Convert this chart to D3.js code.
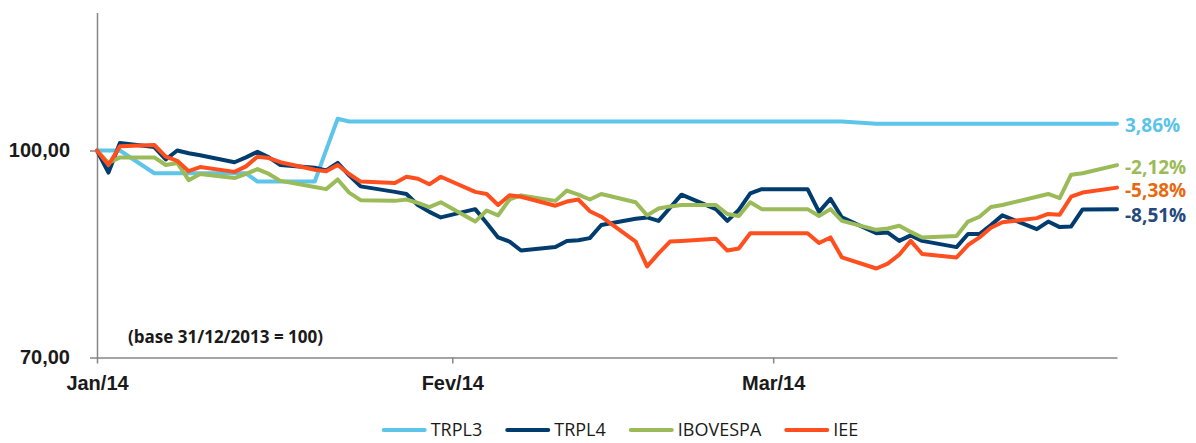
<!DOCTYPE html>
<html>
<head>
<meta charset="utf-8">
<script src="https://cdn.jsdelivr.net/npm/d3@7"></script>
<style>
  body { margin: 0; background: #fff; }
  svg { display: block; font-family: "Open Sans", "Liberation Sans", sans-serif; }
  .axis path, .axis line { stroke: #868686; stroke-width: 1.5px; }
  .axis text { font-size: 20px; font-weight: 700; fill: #1a1a1a; }
  .serie { fill: none; stroke-width: 4px; stroke-linejoin: round; stroke-linecap: round; }
</style>
</head>
<body>
<div class="interactive-wrapper"></div>
<script>
// trading days (carnival 3-4 mar repeated flat, like the source sheet)
const dates = [
  "2014-01-01","2014-01-02","2014-01-03",
  "2014-01-06","2014-01-07","2014-01-08","2014-01-09","2014-01-10",
  "2014-01-13","2014-01-14","2014-01-15","2014-01-16","2014-01-17",
  "2014-01-20","2014-01-21","2014-01-22","2014-01-23","2014-01-24",
  "2014-01-27","2014-01-28","2014-01-29","2014-01-30","2014-01-31",
  "2014-02-03","2014-02-04","2014-02-05","2014-02-06","2014-02-07",
  "2014-02-10","2014-02-11","2014-02-12","2014-02-13","2014-02-14",
  "2014-02-17","2014-02-18","2014-02-19","2014-02-20","2014-02-21",
  "2014-02-24","2014-02-25","2014-02-26","2014-02-27","2014-02-28",
  "2014-03-03","2014-03-04","2014-03-05","2014-03-06","2014-03-07",
  "2014-03-10","2014-03-11","2014-03-12","2014-03-13","2014-03-14",
  "2014-03-17","2014-03-18","2014-03-19","2014-03-20","2014-03-21",
  "2014-03-24","2014-03-25","2014-03-26","2014-03-27","2014-03-28",
  "2014-03-31"
];

const trpl3 = [
  100, 100, 100, 96.7, 96.7, 96.7, 96.7, 96.7, 96.7, 96.7, 95.5, 95.5, 95.5,
  95.5, 100.1, 104.6, 104.2, 104.2, 104.2, 104.2, 104.2, 104.2, 104.2,
  104.2, 104.2, 104.2, 104.2, 104.2, 104.2, 104.2, 104.2, 104.2, 104.2,
  104.2, 104.2, 104.2, 104.2, 104.2, 104.2, 104.2, 104.2, 104.2, 104.2,
  104.2, 104.2, 104.2, 104.2, 104.2,
  103.86, 103.86, 103.86, 103.86, 103.86, 103.86, 103.86, 103.86, 103.86, 103.86,
  103.86, 103.86, 103.86, 103.86, 103.86, 103.86
];

const trpl4 = [
  100, 96.8, 101.1, 100.5, 98.7, 100.0, 99.6, 99.3, 98.3, 99.0, 99.8, 99.0, 97.9,
  97.5, 97.1, 98.2, 96.4, 94.8, 94.0, 93.7, 92.1, 91.1, 90.3,
  91.5, 89.5, 87.4, 86.8, 85.5, 86.0, 86.9, 87.0, 87.3, 89.2,
  90.1, 90.3, 89.8, 91.7, 93.6, 91.5, 89.8, 91.4, 93.8, 94.4,
  94.4, 94.4, 91.1, 93.0, 90.3, 88.0, 88.1, 86.9, 87.7, 86.9,
  86.0, 87.9, 87.9, 89.2, 90.6, 88.6, 89.7, 88.9, 89.0, 91.45, 91.49
];

const ibovespa = [
  100, 98.2, 99.0, 99.0, 97.9, 98.2, 95.7, 96.6, 96.0, 96.6, 97.3, 96.6, 95.6,
  94.7, 94.4, 95.8, 93.9, 92.8, 92.7, 92.9, 92.4, 91.8, 92.5,
  89.7, 91.3, 90.6, 92.9, 93.5, 92.7, 94.2, 93.6, 92.9, 93.7,
  92.5, 90.6, 91.6, 91.9, 92.1, 92.1, 90.8, 90.5, 92.5, 91.5,
  91.5, 91.5, 90.5, 91.5, 89.8, 88.5, 88.7, 89.1, 88.2, 87.4,
  87.6, 89.7, 90.4, 91.8, 92.1, 93.3, 93.7, 93.1, 96.5, 96.7, 97.88
];

const iee = [
  100, 97.9, 100.6, 100.8, 99.1, 98.5, 97.0, 97.6, 96.9, 97.7, 99.1, 98.9, 98.3,
  97.2, 97.0, 97.9, 96.6, 95.5, 95.3, 96.2, 95.9, 95.1, 96.2,
  94.0, 93.7, 92.1, 93.5, 93.3, 92.0, 92.6, 92.9, 91.2, 90.4,
  86.8, 83.2, 85.1, 86.8, 86.9, 87.2, 85.5, 85.8, 88.0, 88.0,
  88.0, 88.0, 86.6, 87.4, 84.5, 82.9, 83.6, 84.9, 86.9, 85.0,
  84.5, 86.3, 87.4, 88.8, 89.6, 90.2, 90.8, 90.7, 93.3, 93.9, 94.62
];

const seriesNames = ["TRPL3", "TRPL4", "IBOVESPA", "IEE"];
const seriesValues = [trpl3, trpl4, ibovespa, iee];
const endLabels = ["3,86%", "-8,51%", "-2,12%", "-5,38%"];
const monthLabels = ["Jan/14", "Fev/14", "Mar/14"];
const yTicks = [70, 100];

const lineColors = ["#5CC5E9", "#003D6E", "#9BBB59", "#FF4F1F"];
const labelColors = ["#5BC3E7", "#24497B", "#9BBB59", "#E8680F"];
const labelNudge = [1, 6, 2, 3];

const width = 1196, height = 443;
const margin = {top: 12.5, left: 97, right: 79, bottom: 85.5};

let parse = d3.utcParse("%Y-%m-%d");
let days = dates.map(parse);

let ptBR = d3.formatLocale({decimal: ",", thousands: ".", grouping: [3], currency: ["R$", ""]});

let x = d3.scaleUtc()
    .domain([parse("2014-01-01"), parse("2014-03-31")])
    .range([margin.left, width - margin.right]);

let y = d3.scaleLinear()
    .domain([70, 120])
    .range([height - margin.bottom, margin.top]);

let svg = d3.select(".interactive-wrapper").append("svg")
    .attr("width", width)
    .attr("height", height);

// axes
svg.append("g")
    .attr("class", "axis")
    .attr("transform", `translate(${margin.left},0)`)
    .call(d3.axisLeft(y).tickValues(yTicks).tickSize(7).tickSizeOuter(0).tickPadding(20)
      .tickFormat(ptBR.format(".2f")));

let monthTicks = [parse("2014-01-01"), parse("2014-02-01"), parse("2014-03-01")];
svg.append("g")
    .attr("class", "axis")
    .attr("transform", `translate(0,${height - margin.bottom})`)
    .call(d3.axisBottom(x).tickValues(monthTicks).tickSize(6).tickSizeOuter(0).tickPadding(12)
      .tickFormat((d, i) => monthLabels[i]));

svg.append("text")
    .attr("x", 128)
    .attr("y", 343)
    .style("font-size", "17px")
    .style("font-weight", 700)
    .style("fill", "#1a1a1a")
    .text("(base 31/12/2013 = 100)");

// lines
let line = d3.line()
    .x((d, i) => x(days[i]))
    .y(d => y(d));

svg.selectAll("path.serie")
    .data(seriesValues)
  .enter().append("path")
    .attr("class", "serie")
    .attr("stroke", (d, i) => lineColors[i])
    .attr("d", line);

// variation labels at the end of each line
svg.selectAll("text.end")
    .data(seriesValues)
  .enter().append("text")
    .attr("class", "end")
    .attr("x", 1125)
    .attr("y", (d, i) => y(d[d.length - 1]) + labelNudge[i])
    .attr("dy", "0.35em")
    .style("font-size", "19px")
    .style("font-weight", 700)
    .style("fill", (d, i) => labelColors[i])
    .text((d, i) => endLabels[i]);

// legend
let legend = svg.append("g").attr("transform", "translate(0,430)");
let items = legend.selectAll("g")
    .data(seriesNames)
  .enter().append("g");

items.append("line")
    .attr("x1", 0).attr("x2", 41)
    .attr("stroke", (d, i) => lineColors[i])
    .attr("stroke-width", 4)
    .attr("stroke-linecap", "round");

items.append("text")
    .attr("x", 47)
    .attr("dy", "0.35em")
    .style("font-size", "18px")
    .style("fill", "#1a1a1a")
    .text(d => d);

let cursor = 0;
let widths = [];
items.each(function() {
  widths.push(47 + d3.select(this).select("text").node().getComputedTextLength());
});
let total = d3.sum(widths) + 25 * (widths.length - 1);
cursor = 621 - total / 2;
items.attr("transform", (d, i) => {
  let t = `translate(${cursor},0)`;
  cursor += widths[i] + 25;
  return t;
});
</script>
</body>
</html>
